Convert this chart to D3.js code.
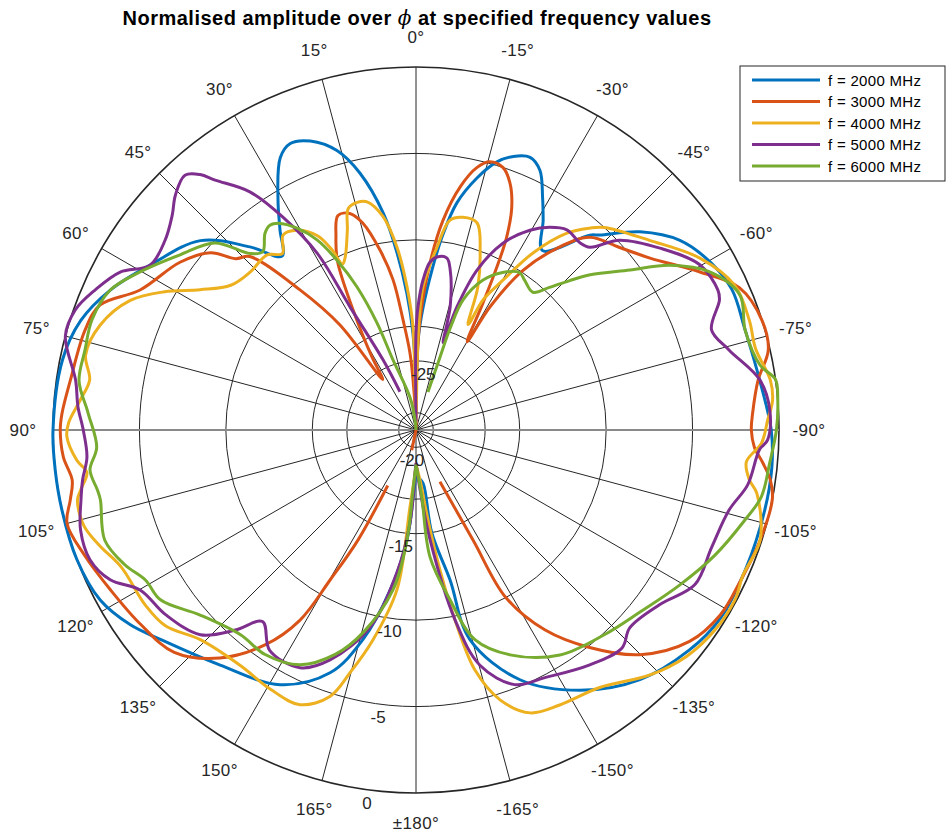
<!DOCTYPE html>
<html>
<head>
<meta charset="utf-8">
<script src="https://cdn.jsdelivr.net/npm/d3@7"></script>
<style>
  body { margin: 0; background: #fff; }
  svg { display: block; }
</style>
</head>
<body>
<svg id="chart" width="949" height="832"></svg>
<script>
// ---------------- data (phi in degrees, normalised amplitude in dB; null = gap) ----------------
const seriesNames = ["f = 2000 MHz", "f = 3000 MHz", "f = 4000 MHz", "f = 5000 MHz", "f = 6000 MHz"];
const seriesColors = ["#0072BD", "#D95319", "#EDB120", "#7E2F8E", "#77AC30"];

const amp2000 = [[-180,-18.5],[-178,-18.3],[-172.5,-17.9],[-171.3,-15],[-167.2,-12.1],[-165.6,-8.5],[-157.4,-5.35],[-147.8,-3.2],[-138.1,-1.6],[-128.8,-0.7],[-122,-0.3],[-113,-0.3],[-103,-0.3],[-96,-0.3],[-90,-0.45],[-82,-0.9],[-73,-1.1],[-66,-1.0],[-60.3,-1.4],[-54.3,-2.2],[-48.5,-3.7],[-43.3,-5.5],[-41.7,-5.9],[-35.2,-8.3],[-31.2,-6.8],[-28.6,-5.7],[-25.5,-4.35],[-22.7,-3.9],[-19.6,-4.2],[-16.8,-4.8],[-13.6,-6.0],[-10.2,-7.65],[-7.7,-9.7],[-5.7,-11.7],[-3.3,-13.9],[-1.3,-15.8],[-0.7,-17.7],[0,-20],[0.7,-17.5],[1.8,-15.4],[3.8,-13.1],[6.1,-10.7],[8.6,-8.3],[12.3,-5.8],[15.8,-4.2],[20.1,-3.2],[23.7,-2.9],[26.5,-3.4],[31,-5.5],[34.2,-7.0],[37.6,-8.3],[42.2,-6.7],[48.7,-4.4],[58.2,-2.9],[65.4,-1.55],[71.9,-0.6],[78.8,-0.15],[90,0],[96.3,0],[102.7,0],[110.9,0],[118.3,-0.25],[124.3,-1],[129.4,-1.9],[140.2,-3.3],[151.9,-4.3],[160.5,-6.1],[165.8,-8.5],[170.8,-11.6],[175.3,-14.6],[177.5,-17],[180,-18.5]];

const amp3000 = [[-155.2,-17.7],[-152.6,-13.8],[-151.8,-10],[-147.2,-7.25],[-141.4,-4.9],[-135.1,-2.65],[-127.7,-1],[-121.3,-0.4],[-115,-0.3],[-108,-0.1],[-101,0],[-98,-0.3],[-95.4,-0.85],[-92.9,-1.4],[-90,-1.6],[-87.1,-1.5],[-81.7,-1],[-77.2,-0.1],[-72.5,0],[-66.3,-0.55],[-60.9,-2.2],[-53.7,-4.2],[-48,-5.2],[-42,-6],[-37.8,-7.7],[-33.8,-9.9],[-31,-12.7],[-30.1,-15.1],[-27.8,-12.7],[-26.4,-10.5],[-25.2,-8.7],[-23.3,-7],[-20.8,-5.7],[-18.3,-5],[-15.4,-4.9],[-13.1,-5.4],[-10.3,-6.7],[-7.3,-8.8],[-4.8,-11.3],[-2.1,-14.6],[-0.7,-17.7],[0,-21],[1.5,-20.3],[3.4,-18.1],[4.5,-16.5],[6.7,-14.6],[8.7,-12.2],[11.3,-10.4],[14.4,-8.65],[17,-7.9],[20,-7.8],[22.5,-8.9],[24.9,-10.2],[28,-13.5],[31,-16],[33.4,-17.5],[35.9,-13.5],[39.6,-10.5],[43.8,-7.1],[46.5,-6.6],[49.2,-5.3],[54.6,-4.25],[63.1,-3.1],[68.4,-1.35],[73.2,-1],[81.8,-0.8],[87.3,-0.5],[90,-0.42],[94.4,-0.54],[98.3,-0.9],[101.4,-0.6],[105,-0.1],[110.7,-0.5],[117.6,-1.05],[125.2,-1.5],[132.6,-2],[139.3,-3.6],[144.9,-5.8],[148.6,-8.1],[150.2,-11],[152.2,-13.8],[153,-17.4],[158,null],[165,-21],[168,-19.8]];

const amp4000 = [[-180,-19],[-175.4,-18.1],[-172.4,-15.75],[-170.3,-12.8],[-168.4,-9.8],[-166.2,-6.7],[-162.7,-4.65],[-158,-3.35],[-152.4,-3.05],[-144.5,-2.7],[-136.3,-1.4],[-130,-0.6],[-124,-0.2],[-118,-0.1],[-114,-0.3],[-107.7,-0.1],[-100.5,-0.95],[-98.5,-1.5],[-95.5,-1.8],[-92.2,-1],[-88.4,-0.65],[-85.2,-0.3],[-82,-0.3],[-76.5,-0.8],[-71.8,-0.7],[-65.6,-0.75],[-58.8,-1.8],[-50.9,-3.6],[-42.9,-5],[-40.7,-5.6],[-37.5,-6.65],[-33.5,-8.7],[-30.1,-11],[-27.3,-12.5],[-26.3,-14.2],[-23.4,-12],[-19.9,-10.1],[-16.4,-8.5],[-12.4,-8.4],[-9.2,-8.7],[-6.5,-10.4],[-2.8,-12.7],[-1.2,-16],[0,-20],[1.7,-15],[3.6,-12.7],[5.9,-10.4],[8.8,-8.5],[12.1,-7.5],[14.5,-7.4],[17,-7.6],[19,-8.8],[22.3,-10.2],[23.9,-10.5],[25,-9.5],[26.9,-8.4],[30.8,-7.55],[34.3,-7.35],[37.1,-8.2],[40.4,-7.7],[46.4,-7.75],[52,-7.4],[57,-6.1],[61.2,-4.4],[65.6,-2.85],[71.6,-1.75],[77.2,-1.4],[81.3,-1.9],[84.9,-1.5],[88.8,-0.9],[91.1,-0.8],[95.1,-1.3],[97.4,-1.8],[100.1,-1.3],[101.7,-1],[106,-1],[110,-1.5],[115,-2.2],[122.9,-2.35],[128,-2.6],[134.2,-3.6],[143.2,-4],[150.7,-3.8],[157.1,-3.75],[162.1,-4.8],[164.8,-6.45],[168.4,-8.6],[173.2,-11.7],[175.5,-16.5],[178.7,-18.5],[180,-19]];

const amp5000 = [[-180,-19.1],[-177,-18],[-172.7,-14.6],[-168.4,-9.8],[-164.8,-6.9],[-158.8,-5.2],[-152.5,-4.85],[-143.5,-4.1],[-136.6,-3.65],[-132.8,-4.15],[-125.6,-3.65],[-119,-2.55],[-111.7,-2.6],[-104.3,-2.3],[-99.4,-1.55],[-93.3,-1.1],[-91.6,-0.65],[-86.8,-0.5],[-81.7,-0.9],[-75.7,-2.3],[-71.3,-2.95],[-66.8,-1.9],[-65.1,-1.75],[-59.8,-2],[-53.3,-3.4],[-47,-4.9],[-43.6,-6.4],[-41.2,-6.6],[-37,-6.5],[-33.4,-6.95],[-29.7,-7.7],[-24.9,-9.1],[-20.9,-11.1],[-18.4,-13.5],[-17.2,-15.7],[-15.5,-13.6],[-12,-11.5],[-10.2,-10.9],[-7.2,-10.9],[-4.8,-11.25],[-2.7,-12.3],[-0.9,-13.9],[0,-15.4],[0.6,-20.5],[10,null],[22.8,-18.6],[25.2,-16.5],[28.2,-12.9],[29.2,-9.3],[32,-6.5],[34.9,-4.2],[38.8,-2.45],[40.2,-1.65],[42.2,-1.1],[45.7,-1.55],[48.6,-2.2],[52.9,-2.8],[58.2,-2.9],[61.9,-1.6],[66.4,-0.75],[70.6,-0.1],[75,0],[81.7,-1.1],[86.1,-1.4],[90,-1.75],[94.7,-1.9],[98.5,-1.5],[101.8,-1.2],[106.6,-0.75],[111.7,-0.7],[116.1,-1.3],[120.1,-2.55],[126.4,-3],[133.5,-3.8],[137.9,-5.4],[141.3,-6.8],[146.4,-5.7],[154,-5.7],[159.5,-6.8],[166.9,-9.3],[172.4,-12.7],[176.3,-15.6],[178.7,-18.5],[180,-19.1]];

const amp6000 = [[-180,-19],[-175.1,-17.1],[-173.7,-13.6],[-168.7,-11],[-164.3,-8.4],[-157.3,-6.9],[-147.4,-5.55],[-137.3,-4.9],[-129.1,-4.3],[-120.4,-3.3],[-112.7,-2.25],[-105.5,-1.3],[-100.9,-0.65],[-95.3,-0.45],[-90,-0.15],[-85.3,0],[-82,0],[-79.3,-0.75],[-73.1,-1.1],[-67.4,-0.7],[-61.7,-1.7],[-57,-3.5],[-53.2,-5.55],[-48.3,-7.5],[-45.8,-8.6],[-43.1,-9.7],[-40.3,-10.55],[-36,-10.3],[-33.4,-10.1],[-28.8,-10.6],[-24.1,-11.5],[-19.9,-13],[-18.6,-14.7],[-18.2,-16.7],[-17.5,-18.7],[-10,null],[0,-21],[5,-20.5],[10.3,-19.1],[18.2,-16.7],[20,-14.4],[22.4,-12.05],[24.9,-10.2],[27.5,-8.6],[30.5,-7.45],[33.3,-6.7],[35.5,-6.45],[37.5,-6.65],[40.7,-7.4],[43.2,-7],[47.1,-5.1],[53.4,-4],[60.2,-2.6],[65.4,-1.55],[71.2,-1.2],[76.4,-1.3],[81.7,-1.3],[87,-2],[93.1,-2.5],[97,-2],[100.7,-2.25],[102.5,-2.3],[109.5,-1.9],[114.9,-2.45],[119,-3.1],[123.6,-3.25],[130.6,-4.55],[139.4,-5.4],[146.1,-5.35],[153.7,-5.85],[160.2,-7.2],[165.4,-8.9],[171.8,-11.65],[175.3,-14.6],[177.1,-17.5],[180,-19]];

const seriesData = [amp2000, amp3000, amp4000, amp5000, amp6000];

const radialTicks = [-25, -20, -15, -10, -5, 0];
const angleTicks = d3.range(0, 360, 15);
const titleText = "Normalised amplitude over ";
const titleSymbol = "\u03D5";
const titleRest = " at specified frequency values";

// ---------------- layout ----------------
const cx = 416, cy = 430, R = 363;
const svg = d3.select("#chart");
const g = svg.append("g").attr("transform", `translate(${cx},${cy})`);

// radius: -21 dB at centre, 0 dB at the outer ring (values below flip through the centre)
const r = d3.scaleLinear().domain([-21, 0]).range([0, R]);
// phi increases counter-clockwise, 0 deg at top
const a = d3.scaleLinear().domain([0, 360]).range([0, -2 * Math.PI]);

const gridColor = "#262626";
const font = "'Liberation Sans', Arial, Helvetica, sans-serif";

// rings
g.selectAll("circle.ring")
  .data(radialTicks)
  .join("circle")
  .attr("class", "ring")
  .attr("r", d => Math.abs(r(d)))
  .attr("fill", "none")
  .attr("stroke", gridColor)
  .attr("stroke-width", d => d === 0 ? 1.6 : 1);

// spokes
g.selectAll("line.spoke")
  .data(angleTicks)
  .join("line")
  .attr("class", "spoke")
  .attr("x1", 0).attr("y1", 0)
  .attr("x2", d => R * Math.sin(a(d)))
  .attr("y2", d => -R * Math.cos(a(d)))
  .attr("stroke", d => (d === 90 || d === 270) ? "#8a8a8a" : gridColor)
  .attr("stroke-width", d => (d === 90 || d === 270) ? 2.2 : 1);

// curves
const line = d3.lineRadial()
  .defined(d => d[1] !== null)
  .angle(d => a(d[0]))
  .radius(d => r(d[1]))
  .curve(d3.curveCatmullRom.alpha(0.5));

g.selectAll("path.series")
  .data(seriesData)
  .join("path")
  .attr("class", "series")
  .attr("d", d => line(d))
  .attr("fill", "none")
  .attr("stroke", (d, i) => seriesColors[i])
  .attr("stroke-width", 3)
  .attr("stroke-linejoin", "round")
  .attr("stroke-linecap", "butt");

// radial tick labels along phi = 172.5 deg
const labelPhi = 172.5;
g.selectAll("text.rlabel")
  .data(radialTicks)
  .join("text")
  .attr("class", "rlabel")
  .attr("x", d => (r(d) + 13.5) * Math.sin(a(labelPhi)))
  .attr("y", d => -(r(d) + 13.5) * Math.cos(a(labelPhi)))
  .attr("text-anchor", "middle")
  .attr("dominant-baseline", "central")
  .attr("font-family", font)
  .attr("font-size", 17)
  .attr("fill", gridColor)
  .text(d => d);

// angle labels
const angleLabel = d => d === 180 ? "\u00B1180\u00B0" : (d < 180 ? d : d - 360) + "\u00B0";
g.selectAll("text.alabel")
  .data(angleTicks)
  .join("text")
  .attr("class", "alabel")
  .attr("x", d => 393 * Math.sin(a(d)))
  .attr("y", d => -393 * Math.cos(a(d)))
  .attr("text-anchor", "middle")
  .attr("dominant-baseline", "central")
  .attr("font-family", font)
  .attr("font-size", 17)
  .attr("letter-spacing", 0.4)
  .attr("fill", gridColor)
  .text(angleLabel);

// title
const title = svg.append("text")
  .attr("x", 417).attr("y", 25)
  .attr("text-anchor", "middle")
  .attr("font-family", font)
  .attr("font-size", 20)
  .attr("letter-spacing", 0.5)
  .attr("font-weight", "bold")
  .attr("fill", "#000");
title.append("tspan").text(titleText);
title.append("tspan").attr("font-family", "'DejaVu Serif', serif").attr("font-style", "italic").attr("font-weight", "normal").text(titleSymbol);
title.append("tspan").text(titleRest);

// legend
const lg = svg.append("g").attr("transform", "translate(740,66)");
lg.append("rect").attr("x", 0).attr("y", 0).attr("width", 205).attr("height", 115)
  .attr("fill", "#fff").attr("stroke", "#262626").attr("stroke-width", 1);
const items = lg.selectAll("g.item").data(seriesNames).join("g")
  .attr("class", "item")
  .attr("transform", (d, i) => `translate(0,${14 + i * 21.5})`);
items.append("line").attr("x1", 12).attr("x2", 80).attr("y1", 0).attr("y2", 0)
  .attr("stroke", (d, i) => seriesColors[i]).attr("stroke-width", 3);
items.append("text").attr("x", 88).attr("y", 0)
  .attr("dominant-baseline", "central")
  .attr("font-family", font)
  .attr("font-size", 15)
  .attr("letter-spacing", 0.3)
  .attr("fill", "#000")
  .text(d => d);
</script>
</body>
</html>
